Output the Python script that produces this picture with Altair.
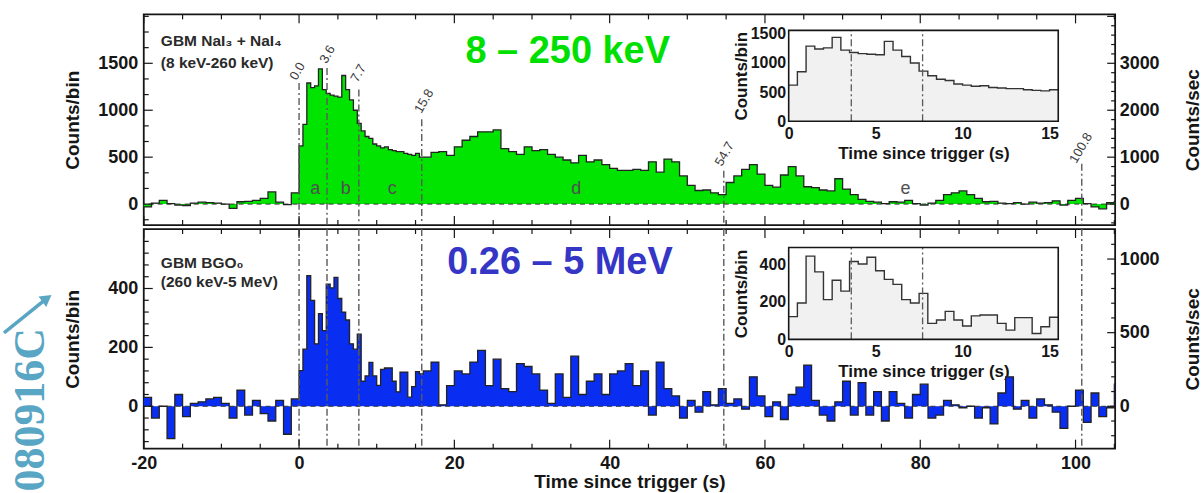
import altair as alt
import pandas as pd

FONT = "Liberation Sans"
INK = "#161616"
GREEN = "#00e400"
GREEN_TXT = "#00e000"
BLUE = "#0a2df2"
BLUE_TXT = "#3535c6"
TEAL = "#58a5c4"
MARK_GRAY = "#5a5a5a"
HATCH = "#f1f1f1"

X_MIN, X_MAX = -20, 105.1
W = 973
H_TOP, H_BOT = 211, 220

# ---------------- data: bin start times (s) ----------------
T_PRE = list(range(-20, 0))            # 1 s bins before trigger
T_EARLY = [k / 2 for k in range(32)]   # 0.5 s bins, 0 .. 15.5
T_LATE = list(range(16, 106))          # 1 s bins, 16 .. 105

# GBM NaI3 + NaI4 (8 keV-260 keV), counts/bin
NAI_PRE = [-30, 10, 40, 5, -10, -15, 10, 20, 15, 10, 0, -45, 25, 30, 40, 60, 130, 20, -5, 120]
NAI_EARLY = [620, 850, 1290, 1240, 1260, 1440, 1220, 1180, 1160, 1150, 1140, 1370, 1220, 1110,
             1000, 860, 780, 720, 700, 640, 620, 600, 610, 580, 570, 560, 560, 540, 530, 520,
             540, 500]
NAI_LATE = [500, 550, 560, 520, 610, 680, 720, 770, 770, 790,
            590, 560, 530, 610, 570, 580, 530, 500, 470, 440,
            520, 450, 470, 420, 380, 360, 360, 370, 360, 450,
            340, 480, 450, 300, 200, 145, 150, 120, 100, 230,
            300, 370, 420, 320, 200, 180, 310, 400, 300, 185,
            175, 150, 140, 270, 160, 100, 50, 30, 20, 5,
            25, 20, 40, 5, -10, 10, 40, 100, 120, 140,
            100, 60, 25, 30, 10, 5, 15, 0, 20, 10,
            15, 35, -10, 40, 60, 5, -30, -50, 15, 30]

# GBM BGO0 (260 keV-5 MeV), counts/bin
BGO_PRE = [30, -40, 0, -110, 40, -35, 10, 15, 25, 30, 10, -40, 55, -30, 20, -25, -50, 20, -95, 25]
BGO_EARLY = [121, 194, 444, 360, 212, 315, 257, 415, 402, 438, 366, 320, 293, 212, 194, 245,
             85, 103, 149, 103, 71, 125, 130, 130, 85, 49, 116, 116, 31, 67, 118, 110]
BGO_LATE = [120, 150, 5, 70, 120, 110, 150, 190, 70, 160,
            60, 50, 145, 135, 110, 55, 10, 110, 30, 170,
            40, 85, 110, 40, 110, 120, 145, 70, 120, -30,
            150, 60, 35, -40, 20, -20, 50, 5, 60, 10,
            25, -10, 100, 35, -35, 15, -45, 40, 65, 140,
            20, -30, -50, 15, 85, -30, 80, -30, 50, -50,
            50, 10, -40, 40, 75, -40, -30, 20, 5, -5,
            0, -40, -5, -60, 45, 100, -10, 20, -40, 25,
            5, -20, -75, 0, 55, -55, 45, -35, -5, 75]

# time markers
MARKER_T = [0.0, 3.6, 7.7, 15.8, 54.7, 100.8]
MARKER_TXT = ["0.0", "3.6", "7.7", "15.8", "54.7", "100.8"]
MARKER_TOP = [1290, 1450, 1220, 905, 354, 430]
LABEL_T = [-0.2, 3.66, 7.65, 16.1, 54.8, 100.7]
LABEL_C = [1415, 1595, 1394, 1097, 534, 598]
INSET_MARKERS = [3.6, 7.7]

PHASES = ["a", "b", "c", "d", "e"]
PHASE_T = [2.1, 6.0, 12.0, 35.7, 78.1]
PHASE_C = [110, 110, 110, 110, 110]

# axis tick values
X_MAJOR = [-20, 0, 20, 40, 60, 80, 100]
X_MINOR = [-15, -10, -5, 5, 10, 15, 25, 30, 35, 45, 50, 55, 65, 70, 75, 85, 90, 95, 105]
TOP_Y_LAB = [0, 500, 1000, 1500]
TOP_Y_MINOR = [-166.7, 166.7, 333.3, 666.7, 833.3, 1166.7, 1333.3, 1666.7, 1833.3, 2000]
TOP_R_LAB = [0, 1000, 2000, 3000]
TOP_R_MAJOR = [0, 1000, 2000, 3000, 4000]
TOP_R_MINOR = [-400, -200, 200, 400, 600, 800, 1200, 1400, 1600, 1800, 2200, 2400, 2600, 2800,
               3200, 3400, 3600, 3800]
BOT_Y_LAB = [0, 200, 400]
BOT_Y_MINOR = [-120, -80, -40, 40, 80, 120, 160, 240, 280, 320, 360, 440, 480, 520, 560]
BOT_R_LAB = [0, 500, 1000]
BOT_R_MINOR = [-200, -100, 100, 200, 300, 400, 600, 700, 800, 900, 1100]
INSET_X_LAB = [0, 5, 10, 15]

XS = alt.Scale(domain=[X_MIN, X_MAX], nice=False, zero=False)
PLAIN = "'' + datum.value"


def step_frame(ts, vals, t_end):
    return pd.DataFrame({"t": list(ts) + [t_end], "c": list(vals) + [vals[-1]], "z": 0})


class Enc:
    """Channel builders that always carry the same scale and axis (so shared axes merge)."""

    def __init__(self, xscale, xaxis, yscale, yaxis):
        self.xs, self.xa, self.ys, self.ya = xscale, xaxis, yscale, yaxis

    def x(self, f):
        return alt.X(f, type="quantitative", scale=self.xs, axis=self.xa)

    def y(self, f):
        return alt.Y(f, type="quantitative", scale=self.ys, axis=self.ya)


def rules_y(E, vals, x0, x1):
    return alt.Chart(pd.DataFrame({"v": vals})).mark_rule(color=INK, strokeWidth=1.2).encode(
        y=E.y("v"), x=alt.value(x0), x2=alt.value(x1))


def rules_x(E, vals, y0, y1):
    return alt.Chart(pd.DataFrame({"v": vals})).mark_rule(color=INK, strokeWidth=1.2).encode(
        x=E.x("v"), y=alt.value(y0), y2=alt.value(y1))


def texts(E, df, **kw):
    return alt.Chart(df).mark_text(font=FONT, **kw).encode(x=E.x("t"), y=E.y("c"), text="s:N")


def right_group(dom, labs, major, minor, H):
    RS = alt.Scale(domain=dom, nice=False, zero=False)
    ax = alt.Axis(orient="right", values=labs, title="Counts/sec", labelPadding=4,
                  titleX=77, titleY=H / 2, titleAngle=270, titleAlign="center",
                  titleBaseline="middle", labelExpr=PLAIN)
    E = Enc(XS, None, RS, ax)
    return alt.layer(rules_y(E, major, W, W - 8), rules_y(E, minor, W, W - 4))


def inset_group(vals, ymax, ybot, ytop, yvals, H):
    IXS = alt.Scale(domain=[0, 15.5], range=[646, 916], nice=False, zero=False)
    IYS = alt.Scale(domain=[0, ymax], range=[ybot, ytop], nice=False, zero=False)
    ixaxis = alt.Axis(orient="bottom", offset=-(H - ybot), values=INSET_X_LAB,
                      title="Time since trigger (s)", labelFontSize=16, titleFontSize=17,
                      labelPadding=4, titleY=32, titleBaseline="middle", labelExpr=PLAIN)
    iyaxis = alt.Axis(orient="left", offset=-646, values=yvals, title="Counts/bin",
                      labelFontSize=16, titleFontSize=17, labelPadding=3, titleX=-47,
                      titleY=(ybot + ytop) / 2, titleAngle=270, titleAlign="center",
                      titleBaseline="middle", labelExpr=PLAIN)
    E = Enc(IXS, ixaxis, IYS, iyaxis)
    box = pd.DataFrame({"x0": [0.0], "x1": [15.5], "y0": [0.0], "y1": [ymax]})
    bg = alt.Chart(box).mark_rect(fill="white").encode(
        x=E.x("x0"), x2=alt.X2("x1"), y=E.y("y0"), y2=alt.Y2("y1"))
    df = step_frame(T_EARLY[:31], vals[:31], 15.5)
    area = alt.Chart(df).mark_area(interpolate="step-after", color=HATCH).encode(
        x=E.x("t"), y=E.y("c"), y2=alt.Y2("z"))
    line = alt.Chart(df).mark_line(interpolate="step-after", color="#333333", strokeWidth=1.4).encode(
        x=E.x("t"), y=E.y("c"))
    mk = alt.Chart(pd.DataFrame({"t": INSET_MARKERS, "y0": 0.0, "y1": ymax})).mark_rule(
        color=MARK_GRAY, strokeWidth=1.3, strokeDash=[7, 3, 2, 3]).encode(
        x=E.x("t"), y=E.y("y0"), y2=alt.Y2("y1"))
    outline = alt.Chart(box).mark_rect(fillOpacity=0, stroke=INK, strokeWidth=1.6).encode(
        x=E.x("x0"), x2=alt.X2("x1"), y=E.y("y0"), y2=alt.Y2("y1"))
    return alt.layer(bg, area, line, mk, outline)


def main_group(df, fill, ydom, H, ylabs, yminor, xaxis, extra, extent_y):
    YS = alt.Scale(domain=ydom, nice=False, zero=False)
    yaxis = alt.Axis(orient="left", values=ylabs, title="Counts/bin", labelPadding=6,
                     titleX=-71, titleY=H / 2, titleAngle=270, titleAlign="center",
                     titleBaseline="middle", labelExpr=PLAIN)
    E = Enc(XS, xaxis, YS, yaxis)
    area = alt.Chart(df).mark_area(interpolate="step-after", color=fill).encode(
        x=E.x("t"), y=E.y("c"), y2=alt.Y2("z"))
    base = alt.Chart(pd.DataFrame({"c": [0]})).mark_rule(
        color="#333333", strokeWidth=1, strokeDash=[5, 4]).encode(y=E.y("c"))
    line = alt.Chart(df).mark_line(interpolate="step-after", color="#222222", strokeWidth=1.3).encode(
        x=E.x("t"), y=E.y("c"))
    layers = [area, base, line] + extra(E) + [
        rules_y(E, ylabs, 0, 9), rules_y(E, yminor, 0, 5),
        rules_x(E, X_MAJOR, 0, 9), rules_x(E, X_MINOR, 0, 5),
        rules_x(E, X_MAJOR, H, H - 9), rules_x(E, X_MINOR, H, H - 5),
        alt.Chart(pd.DataFrame({"a": [0]})).mark_rule(opacity=0).encode(
            x=alt.value(-143), x2=alt.value(1061), y=alt.value(extent_y), y2=alt.value(extent_y)),
    ]
    return alt.layer(*layers)


# ---------------- top panel ----------------
nai_df = step_frame(T_PRE + T_EARLY + T_LATE, NAI_PRE + NAI_EARLY + NAI_LATE, X_MAX)
TOP_DOM = [-223, 2021]


def top_extra(E):
    mdf = pd.DataFrame({"t": MARKER_T, "top": MARKER_TOP, "bot": TOP_DOM[0]})
    markers = alt.Chart(mdf).mark_rule(color=MARK_GRAY, strokeWidth=1.4, strokeDash=[7, 3, 2, 3]).encode(
        x=E.x("t"), y=E.y("top"), y2=alt.Y2("bot"))
    mlab = texts(E, pd.DataFrame({"t": LABEL_T, "c": LABEL_C, "s": MARKER_TXT}),
                 angle=300, fontSize=13, color="#3a3a3a", align="center", baseline="middle")
    letters = texts(E, pd.DataFrame({"t": PHASE_T, "c": PHASE_C, "s": PHASES}),
                    fontSize=18, color="#505050", align="center", baseline="alphabetic")
    inst = texts(E, pd.DataFrame({"t": [-17.8, -17.8], "c": [1680, 1450],
                                  "s": ["GBM NaI\u2083 + NaI\u2084", "(8 keV-260 keV)"]}),
                 fontSize=15.5, fontWeight="bold", color="#2a2a2a", align="left", baseline="alphabetic")
    big = texts(E, pd.DataFrame({"t": [34.6], "c": [1617], "s": ["8 \u2013 250 keV"]}),
                fontSize=38, fontWeight="bold", color=GREEN_TXT, align="center", baseline="middle")
    return [markers, mlab, letters, inst, big]


top = alt.layer(
    main_group(nai_df, GREEN, TOP_DOM, H_TOP, TOP_Y_LAB, TOP_Y_MINOR, None, top_extra, -13),
    right_group([-446, 4042], TOP_R_LAB, TOP_R_MAJOR, TOP_R_MINOR, H_TOP),
    inset_group(NAI_EARLY, 1560, 107, 16, [0, 500, 1000, 1500], H_TOP),
).resolve_scale(x="independent", y="independent").properties(width=W, height=H_TOP)

# ---------------- bottom panel ----------------
bgo_df = step_frame(T_PRE + T_EARLY + T_LATE, BGO_PRE + BGO_EARLY + BGO_LATE, X_MAX)
BOT_DOM = [-144, 602]


def bot_extra(E):
    markers = alt.Chart(pd.DataFrame({"t": MARKER_T})).mark_rule(
        color=MARK_GRAY, strokeWidth=1.4, strokeDash=[7, 3, 2, 3]).encode(x=E.x("t"))
    inst = texts(E, pd.DataFrame({"t": [-17.8, -17.8], "c": [471, 404],
                                  "s": ["GBM BGO\u2080", "(260 keV-5 MeV)"]}),
                 fontSize=15.5, fontWeight="bold", color="#2a2a2a", align="left", baseline="alphabetic")
    big = texts(E, pd.DataFrame({"t": [33.6], "c": [488], "s": ["0.26 \u2013 5 MeV"]}),
                fontSize=38, fontWeight="bold", color=BLUE_TXT, align="center", baseline="middle")
    grb = alt.Chart(pd.DataFrame({"s": ["080916C"]})).mark_text(
        angle=270, font="Liberation Serif", fontWeight="bold", fontSize=44, color=TEAL,
        align="center", baseline="middle").encode(x=alt.value(-113), y=alt.value(181), text="s:N")
    arrow = alt.Chart(pd.DataFrame({"a": [0]})).mark_rule(color=TEAL, strokeWidth=3.5).encode(
        x=alt.value(-140), y=alt.value(104), x2=alt.value(-99), y2=alt.value(71))
    head = alt.Chart(pd.DataFrame({"a": [0]})).mark_point(
        shape="triangle-up", filled=True, color=TEAL, size=170, angle=54, opacity=1).encode(
        x=alt.value(-97), y=alt.value(69.5))
    return [markers, inst, big, grb, arrow, head]


xaxis_bot = alt.Axis(orient="bottom", values=X_MAJOR, title="Time since trigger (s)",
                     labelPadding=6, titleY=33, titleBaseline="middle", labelExpr=PLAIN)

bot = alt.layer(
    main_group(bgo_df, BLUE, BOT_DOM, H_BOT, BOT_Y_LAB, BOT_Y_MINOR, xaxis_bot, bot_extra, 262),
    right_group([-288, 1204], BOT_R_LAB, BOT_R_LAB, BOT_R_MINOR, H_BOT),
    inset_group(BGO_EARLY, 490, 110.5, 18.5, [0, 200, 400], H_BOT),
).resolve_scale(x="independent", y="independent").properties(width=W, height=H_BOT)

chart = alt.vconcat(top, bot, spacing=0).properties(padding=0, background="white").configure_view(
    stroke=INK, strokeWidth=1.8
).configure_axis(
    grid=False, ticks=False, domain=False, labelFont=FONT, titleFont=FONT,
    labelFontSize=18, titleFontSize=19, labelFontWeight="bold", titleFontWeight="bold",
    labelColor=INK, titleColor=INK, labelFlush=False, labelOverlap=False
)

chart.save("out.html", embed_options={"renderer": "svg", "actions": False})
